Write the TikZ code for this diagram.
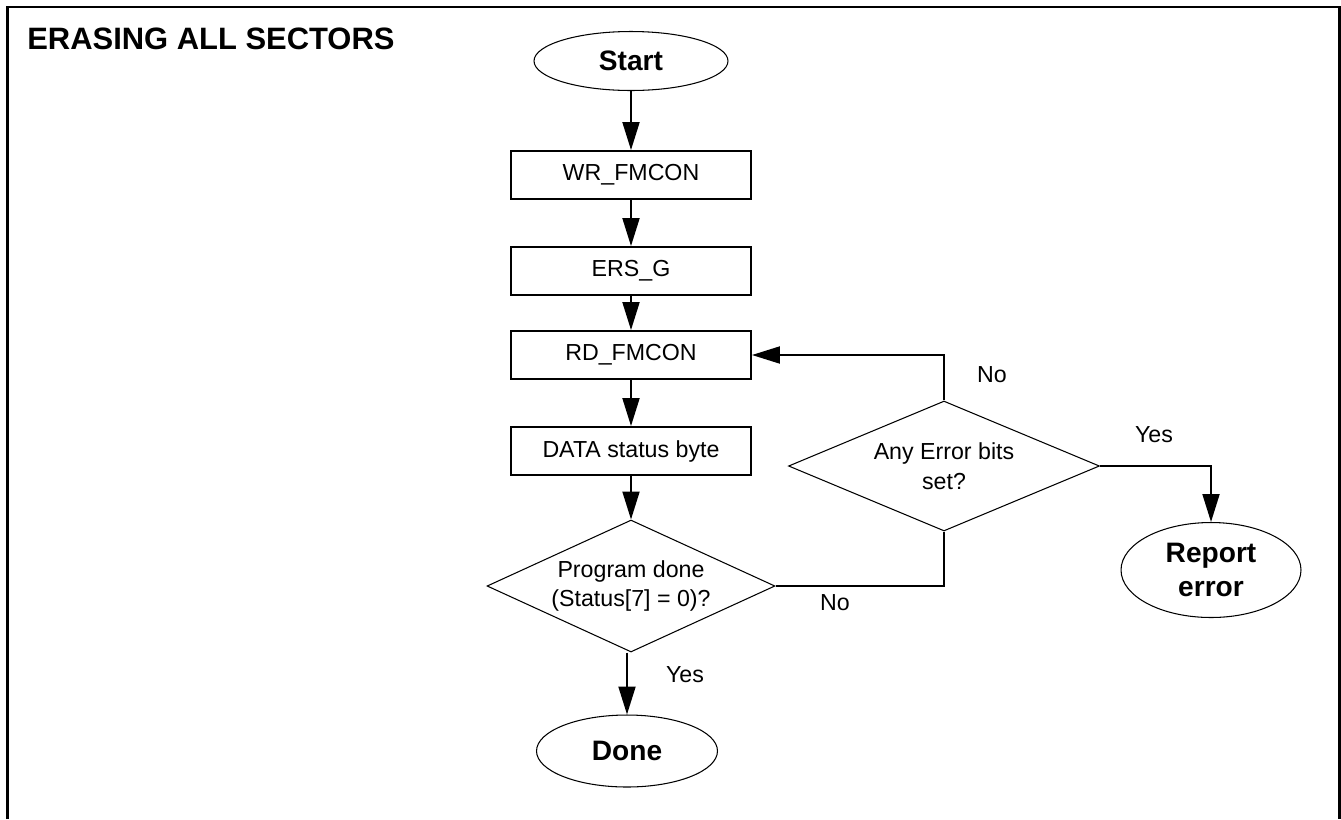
\documentclass[tikz,border=0pt]{standalone}
\usepackage{fontspec}
\setmainfont{Liberation Sans}
\usetikzlibrary{shapes.geometric,arrows.meta}

\tikzset{
  procbox/.style={draw, line width=1.1pt, minimum width=4.8cm, minimum height=0.96cm, inner sep=0pt, font=\fontsize{13.2}{16}\selectfont},
  termnode/.style={draw, ellipse, line width=0.6pt, inner sep=0pt, align=center, font=\fontsize{16}{19}\selectfont\bfseries},
  decision/.style={draw, diamond, line width=0.6pt, inner sep=0pt, align=center, font=\fontsize{13.2}{17}\selectfont},
  flowline/.style={line width=1.1pt},
  flowarrow/.style={flowline, -{Triangle[length=0.56cm, width=0.34cm]}},
  lbl/.style={inner sep=0pt, font=\fontsize{13.2}{16}\selectfont}
}

\begin{document}
\begin{tikzpicture}[x=0.02cm, y=-0.02cm]
\useasboundingbox (0,0) rectangle (1341,819);

% Define dimensions
\def\colx{631}
\def\errx{944}

% Outer frame and title
\draw[line width=1.7pt] (7.5,819) -- (7.5,7) -- (1339,7) -- (1339,819);
\node[anchor=base west, inner sep=0pt, font=\fontsize{17.6}{21}\selectfont\bfseries] (title) at (27,49) {ERASING ALL SECTORS};

% Main column of steps
\node[termnode, minimum width=3.88cm, minimum height=1.18cm] (start) at (\colx,61) {Start};
\node[procbox] (wrcon) at (\colx,175) {WR\_FMCON};
\node[procbox] (ersg) at (\colx,271) {ERS\_G};
\node[procbox] (rdcon) at (\colx,355) {RD\_FMCON};
\node[procbox] (data) at (\colx,451) {DATA status byte};
\node[decision, shape aspect=2.18, minimum width=5.76cm, minimum height=2.64cm] (progdone) at (\colx,586) {Program done\\(Status[7] = 0)?};
\node[termnode, minimum width=3.62cm, minimum height=1.44cm] (done) at (627,751) {Done};

% Error check on the right
\node[decision, shape aspect=2.39, minimum width=6.22cm, minimum height=2.6cm] (errbits) at (\errx,466) {Any Error bits\\set?};
\node[termnode, minimum width=3.6cm, minimum height=1.9cm] (report) at (1211,570) {Report\\error};

% Draw connectors
\draw[flowarrow] (start) -- (wrcon);
\draw[flowarrow] (wrcon) -- (ersg);
\draw[flowarrow] (ersg) -- (rdcon);
\draw[flowarrow] (rdcon) -- (data);
\draw[flowarrow] (data) -- (progdone);
\draw[flowarrow] (progdone.south -| done) -- (done);
\draw[flowline] (progdone.east) -| (errbits.south);
\draw[flowarrow] (errbits.north) |- (rdcon.east);
\draw[flowarrow] (errbits.east) -| (report.north);

% Branch labels
\node[lbl] (yesdone) at (685,675) {Yes};
\node[lbl] (nodone) at (835,603) {No};
\node[lbl] (noerr) at (992,375) {No};
\node[lbl] (yeserr) at (1154,435) {Yes};
\end{tikzpicture}
\end{document}
